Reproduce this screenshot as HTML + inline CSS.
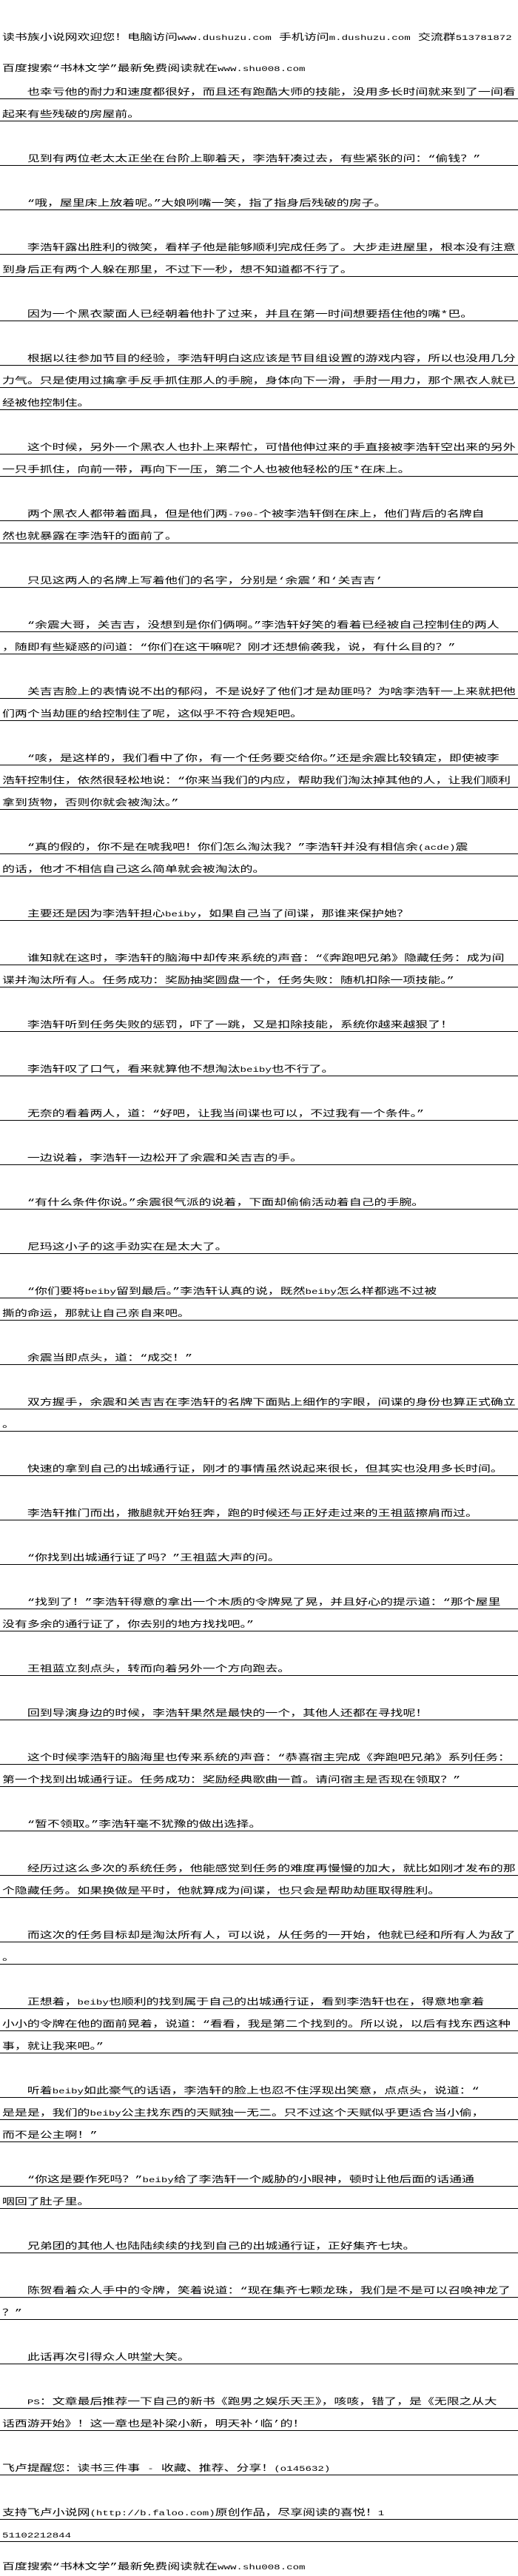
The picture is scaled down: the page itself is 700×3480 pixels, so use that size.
<!DOCTYPE html>
<html><head><meta charset="utf-8">
<style>
html,body{margin:0;padding:0;background:#fff;}
body{width:700px;height:3480px;position:relative;overflow:hidden;font-family:"Liberation Mono","Noto Sans CJK SC",monospace;font-size:12px;color:#000;}
.r{position:absolute;left:0;width:700px;height:16px;line-height:16px;border-bottom:1px solid #000;white-space:nowrap;overflow:hidden;}
.h{position:absolute;left:0;width:700px;height:16px;line-height:16px;white-space:nowrap;overflow:hidden;}
.r>span,.h>span{display:inline-block;margin-left:3px;transform:scaleX(1.41);transform-origin:0 0;}
i{font-style:normal;font-size:10px;}
</style></head><body>
<div class="h" style="top:43px"><span>读书族小说网欢迎您！电脑访问<i>www.dushuzu.com</i> 手机访问<i>m.dushuzu.com</i> 交流群<i>513781872</i></span></div>
<div class="h" style="top:85px"><span>百度搜索“书林文学”最新免费阅读就在<i>www.shu008.com</i></span></div>

<div class="r" style="top:117px"><span>　　也幸亏他的耐力和速度都很好，而且还有跑酷大师的技能，没用多长时间就来到了一间看</span></div>
<div class="r" style="top:147px"><span>起来有些残破的房屋前。</span></div>
<div class="r" style="top:207px"><span>　　见到有两位老太太正坐在台阶上聊着天，李浩轩凑过去，有些紧张的问：“偷钱？”</span></div>
<div class="r" style="top:267px"><span>　　“哦，屋里床上放着呢。”大娘咧嘴一笑，指了指身后残破的房子。</span></div>
<div class="r" style="top:327px"><span>　　李浩轩露出胜利的微笑，看样子他是能够顺利完成任务了。大步走进屋里，根本没有注意</span></div>
<div class="r" style="top:357px"><span>到身后正有两个人躲在那里，不过下一秒，想不知道都不行了。</span></div>
<div class="r" style="top:417px"><span>　　因为一个黑衣蒙面人已经朝着他扑了过来，并且在第一时间想要捂住他的嘴*巴。</span></div>
<div class="r" style="top:477px"><span>　　根据以往参加节目的经验，李浩轩明白这应该是节目组设置的游戏内容，所以也没用几分</span></div>
<div class="r" style="top:507px"><span>力气。只是使用过擒拿手反手抓住那人的手腕，身体向下一滑，手肘一用力，那个黑衣人就已</span></div>
<div class="r" style="top:537px"><span>经被他控制住。</span></div>
<div class="r" style="top:597px"><span>　　这个时候，另外一个黑衣人也扑上来帮忙，可惜他伸过来的手直接被李浩轩空出来的另外</span></div>
<div class="r" style="top:627px"><span>一只手抓住，向前一带，再向下一压，第二个人也被他轻松的压*在床上。</span></div>
<div class="r" style="top:687px"><span>　　两个黑衣人都带着面具，但是他们两<i>-790-</i>个被李浩轩倒在床上，他们背后的名牌自</span></div>
<div class="r" style="top:717px"><span>然也就暴露在李浩轩的面前了。</span></div>
<div class="r" style="top:777px"><span>　　只见这两人的名牌上写着他们的名字，分别是‘余震’和‘关吉吉’</span></div>
<div class="r" style="top:837px"><span>　　“余震大哥，关吉吉，没想到是你们俩啊。”李浩轩好笑的看着已经被自己控制住的两人</span></div>
<div class="r" style="top:867px"><span>，随即有些疑惑的问道：“你们在这干嘛呢？刚才还想偷袭我，说，有什么目的？”</span></div>
<div class="r" style="top:927px"><span>　　关吉吉脸上的表情说不出的郁闷，不是说好了他们才是劫匪吗？为啥李浩轩一上来就把他</span></div>
<div class="r" style="top:957px"><span>们两个当劫匪的给控制住了呢，这似乎不符合规矩吧。</span></div>
<div class="r" style="top:1017px"><span>　　“咳，是这样的，我们看中了你，有一个任务要交给你。”还是余震比较镇定，即使被李</span></div>
<div class="r" style="top:1047px"><span>浩轩控制住，依然很轻松地说：“你来当我们的内应，帮助我们淘汰掉其他的人，让我们顺利</span></div>
<div class="r" style="top:1077px"><span>拿到货物，否则你就会被淘汰。”</span></div>
<div class="r" style="top:1137px"><span>　　“真的假的，你不是在唬我吧！你们怎么淘汰我？”李浩轩并没有相信余<i>(acde)</i>震</span></div>
<div class="r" style="top:1167px"><span>的话，他才不相信自己这么简单就会被淘汰的。</span></div>
<div class="r" style="top:1227px"><span>　　主要还是因为李浩轩担心<i>beiby</i>，如果自己当了间谍，那谁来保护她？</span></div>
<div class="r" style="top:1287px"><span>　　谁知就在这时，李浩轩的脑海中却传来系统的声音：“《奔跑吧兄弟》隐藏任务：成为间</span></div>
<div class="r" style="top:1317px"><span>谍并淘汰所有人。任务成功：奖励抽奖圆盘一个，任务失败：随机扣除一项技能。”</span></div>
<div class="r" style="top:1377px"><span>　　李浩轩听到任务失败的惩罚，吓了一跳，又是扣除技能，系统你越来越狠了！</span></div>
<div class="r" style="top:1437px"><span>　　李浩轩叹了口气，看来就算他不想淘汰<i>beiby</i>也不行了。</span></div>
<div class="r" style="top:1497px"><span>　　无奈的看着两人，道：“好吧，让我当间谍也可以，不过我有一个条件。”</span></div>
<div class="r" style="top:1557px"><span>　　一边说着，李浩轩一边松开了余震和关吉吉的手。</span></div>
<div class="r" style="top:1617px"><span>　　“有什么条件你说。”余震很气派的说着，下面却偷偷活动着自己的手腕。</span></div>
<div class="r" style="top:1677px"><span>　　尼玛这小子的这手劲实在是太大了。</span></div>
<div class="r" style="top:1737px"><span>　　“你们要将<i>beiby</i>留到最后。”李浩轩认真的说，既然<i>beiby</i>怎么样都逃不过被</span></div>
<div class="r" style="top:1767px"><span>撕的命运，那就让自己亲自来吧。</span></div>
<div class="r" style="top:1827px"><span>　　余震当即点头，道：“成交！”</span></div>
<div class="r" style="top:1887px"><span>　　双方握手，余震和关吉吉在李浩轩的名牌下面贴上细作的字眼，间谍的身份也算正式确立</span></div>
<div class="r" style="top:1917px"><span>。</span></div>
<div class="r" style="top:1977px"><span>　　快速的拿到自己的出城通行证，刚才的事情虽然说起来很长，但其实也没用多长时间。</span></div>
<div class="r" style="top:2037px"><span>　　李浩轩推门而出，撒腿就开始狂奔，跑的时候还与正好走过来的王祖蓝擦肩而过。</span></div>
<div class="r" style="top:2097px"><span>　　“你找到出城通行证了吗？”王祖蓝大声的问。</span></div>
<div class="r" style="top:2157px"><span>　　“找到了！”李浩轩得意的拿出一个木质的令牌晃了晃，并且好心的提示道：“那个屋里</span></div>
<div class="r" style="top:2187px"><span>没有多余的通行证了，你去别的地方找找吧。”</span></div>
<div class="r" style="top:2247px"><span>　　王祖蓝立刻点头，转而向着另外一个方向跑去。</span></div>
<div class="r" style="top:2307px"><span>　　回到导演身边的时候，李浩轩果然是最快的一个，其他人还都在寻找呢！</span></div>
<div class="r" style="top:2367px"><span>　　这个时候李浩轩的脑海里也传来系统的声音：“恭喜宿主完成《奔跑吧兄弟》系列任务：</span></div>
<div class="r" style="top:2397px"><span>第一个找到出城通行证。任务成功：奖励经典歌曲一首。请问宿主是否现在领取？”</span></div>
<div class="r" style="top:2457px"><span>　　“暂不领取。”李浩轩毫不犹豫的做出选择。</span></div>
<div class="r" style="top:2517px"><span>　　经历过这么多次的系统任务，他能感觉到任务的难度再慢慢的加大，就比如刚才发布的那</span></div>
<div class="r" style="top:2547px"><span>个隐藏任务。如果换做是平时，他就算成为间谍，也只会是帮助劫匪取得胜利。</span></div>
<div class="r" style="top:2607px"><span>　　而这次的任务目标却是淘汰所有人，可以说，从任务的一开始，他就已经和所有人为敌了</span></div>
<div class="r" style="top:2637px"><span>。</span></div>
<div class="r" style="top:2697px"><span>　　正想着，<i>beiby</i>也顺利的找到属于自己的出城通行证，看到李浩轩也在，得意地拿着</span></div>
<div class="r" style="top:2727px"><span>小小的令牌在他的面前晃着，说道：“看看，我是第二个找到的。所以说，以后有找东西这种</span></div>
<div class="r" style="top:2757px"><span>事，就让我来吧。”</span></div>
<div class="r" style="top:2817px"><span>　　听着<i>beiby</i>如此豪气的话语，李浩轩的脸上也忍不住浮现出笑意，点点头，说道：“</span></div>
<div class="r" style="top:2847px"><span>是是是，我们的<i>beiby</i>公主找东西的天赋独一无二。只不过这个天赋似乎更适合当小偷，</span></div>
<div class="r" style="top:2877px"><span>而不是公主啊！”</span></div>
<div class="r" style="top:2937px"><span>　　“你这是要作死吗？”<i>beiby</i>给了李浩轩一个威胁的小眼神，顿时让他后面的话通通</span></div>
<div class="r" style="top:2967px"><span>咽回了肚子里。</span></div>
<div class="r" style="top:3027px"><span>　　兄弟团的其他人也陆陆续续的找到自己的出城通行证，正好集齐七块。</span></div>
<div class="r" style="top:3087px"><span>　　陈贺看着众人手中的令牌，笑着说道：“现在集齐七颗龙珠，我们是不是可以召唤神龙了</span></div>
<div class="r" style="top:3117px"><span>？”</span></div>
<div class="r" style="top:3177px"><span>　　此话再次引得众人哄堂大笑。</span></div>
<div class="r" style="top:3237px"><span>　　<i>PS</i>：文章最后推荐一下自己的新书《跑男之娱乐天王》，咳咳，错了，是《无限之从大</span></div>
<div class="r" style="top:3267px"><span>话西游开始》！这一章也是补梁小新，明天补‘临’的！</span></div>
<div class="r" style="top:3327px"><span>飞卢提醒您：读书三件事 <i>-</i> 收藏、推荐、分享！<i>(o145632)</i></span></div>
<div class="r" style="top:3387px"><span>支持飞卢小说网<i>(http://b.faloo.com)</i>原创作品，尽享阅读的喜悦！<i>1</i></span></div>
<div class="r" style="top:3417px"><span><i>51102212844</i></span></div>

<div class="h" style="top:3460px"><span>百度搜索“书林文学”最新免费阅读就在<i>www.shu008.com</i></span></div>
</body></html>
